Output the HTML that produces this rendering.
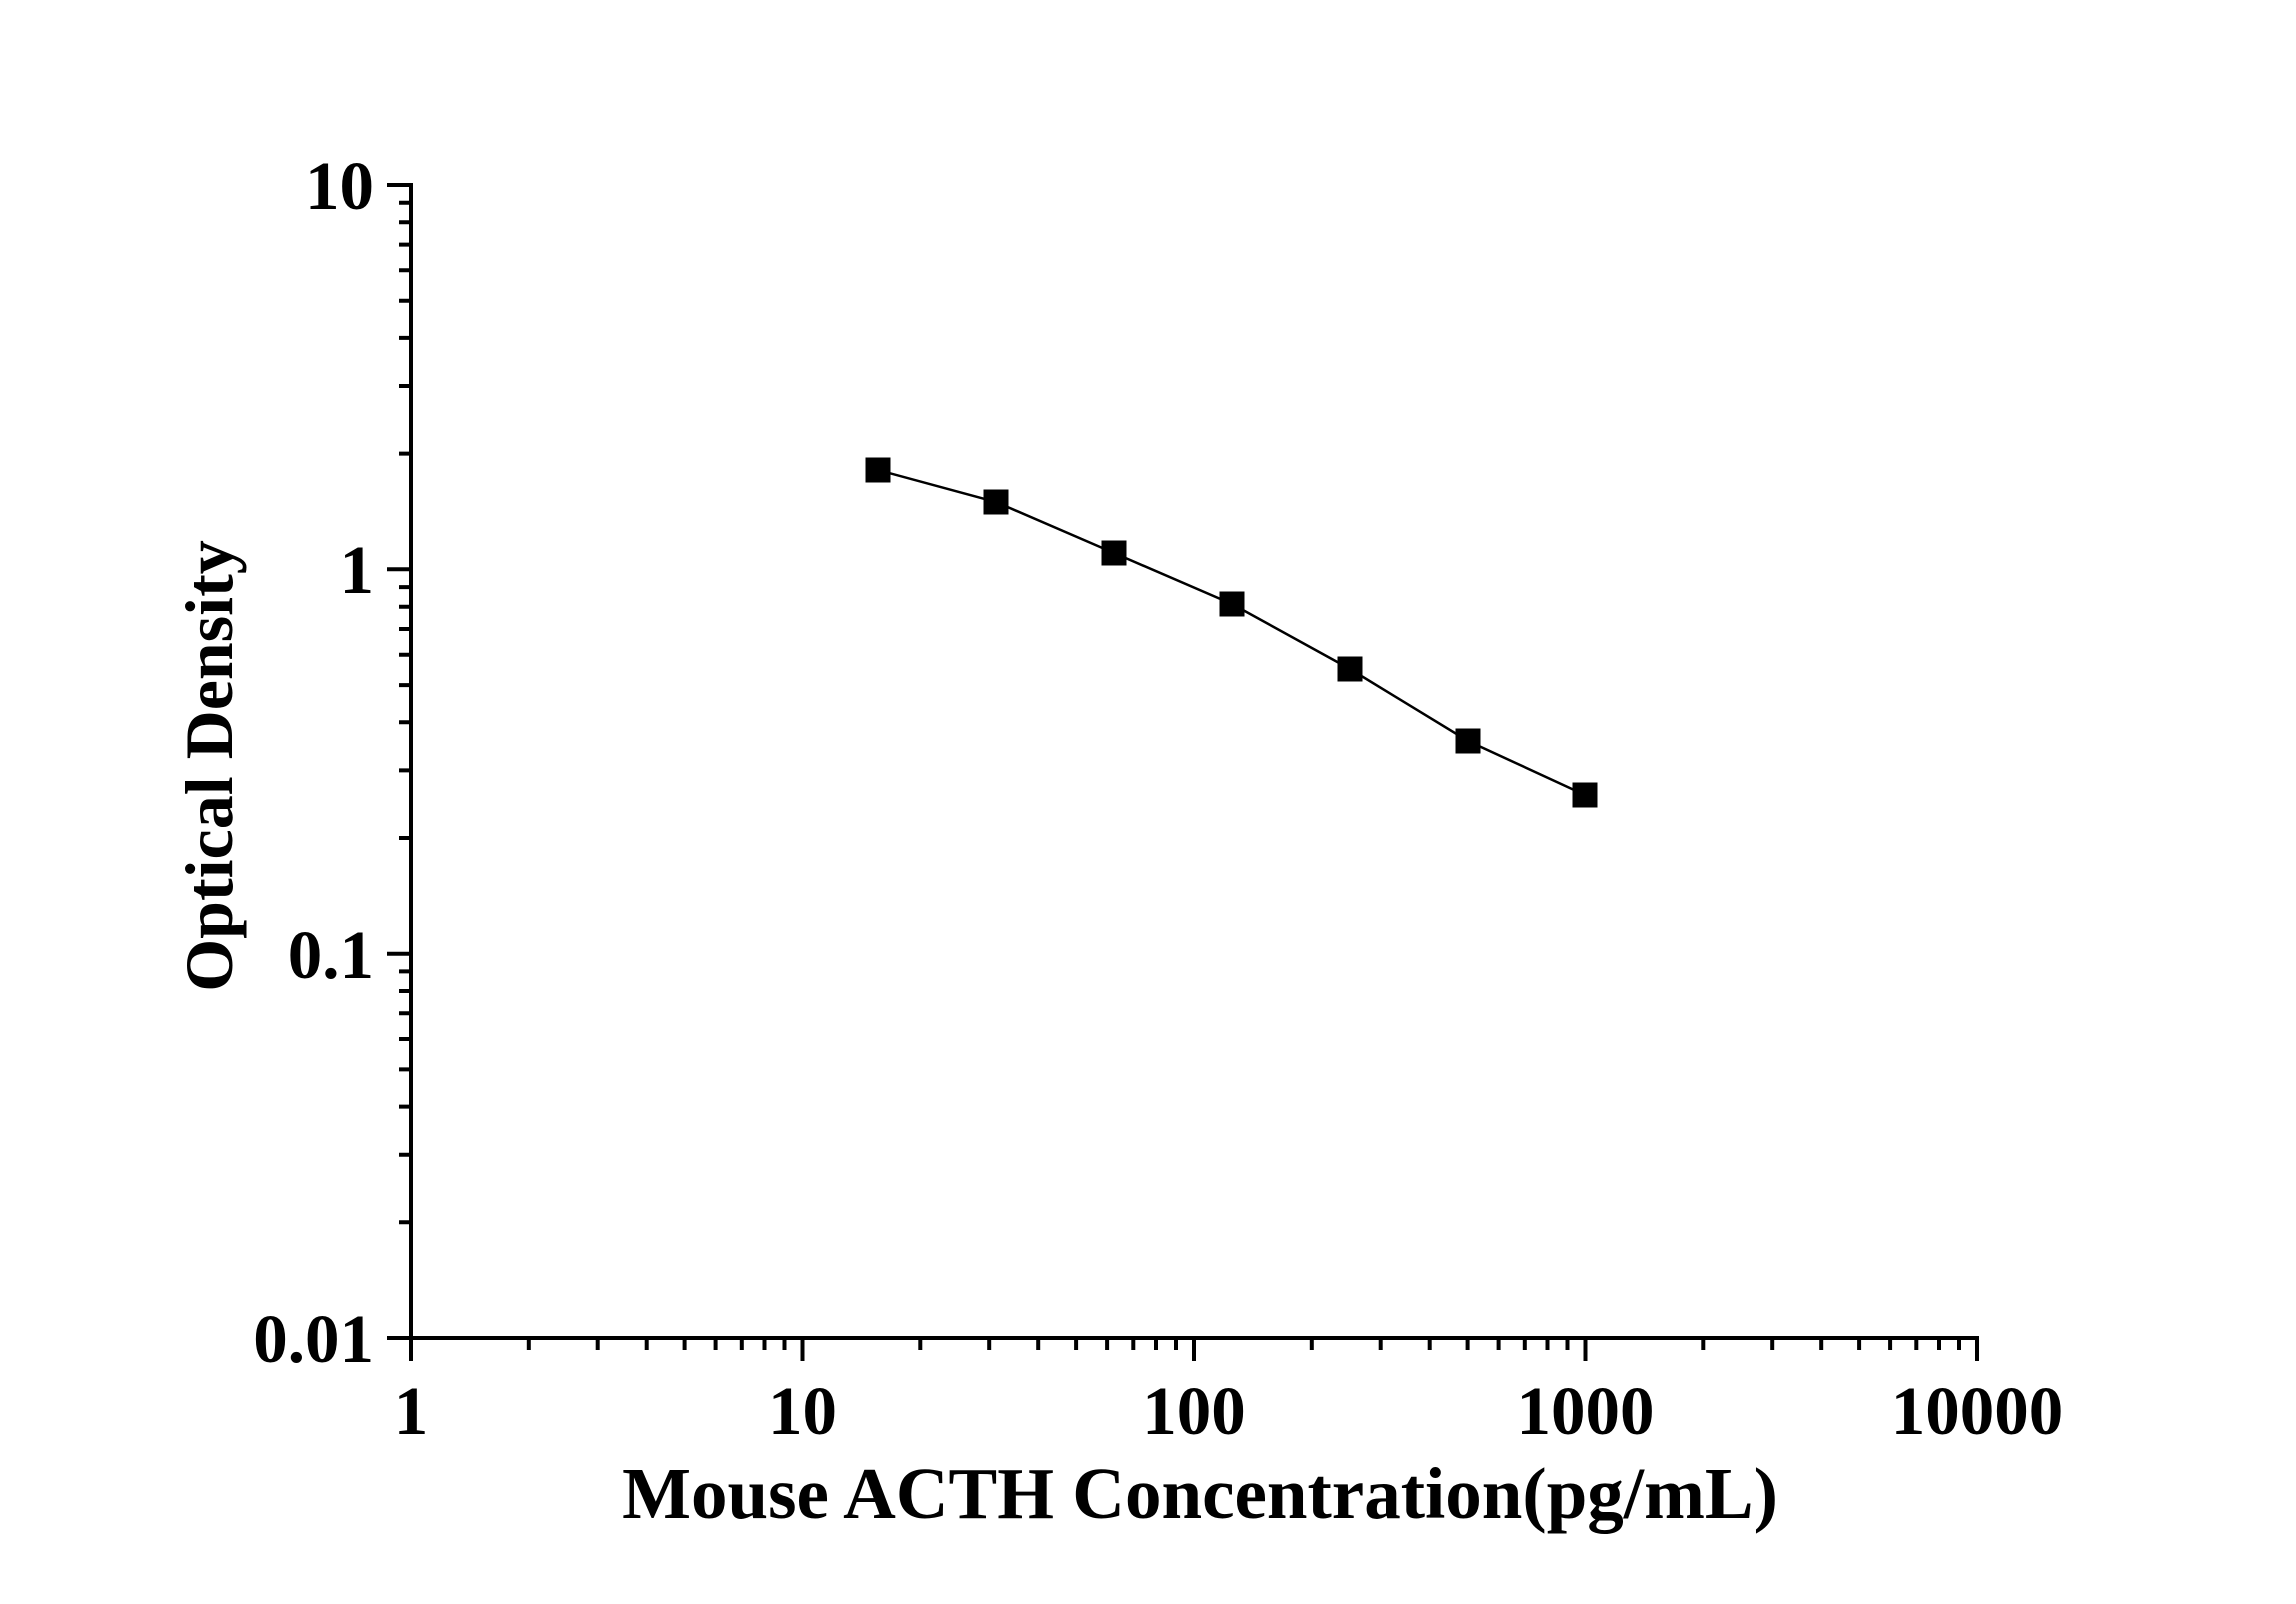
<!DOCTYPE html>
<html><head><meta charset="utf-8"><style>
html,body{margin:0;padding:0;background:#fff}
svg{display:block}
text{font-family:"Liberation Serif",serif;font-weight:bold;fill:#000}
</style></head><body>
<svg width="2296" height="1604" viewBox="0 0 2296 1604" xmlns="http://www.w3.org/2000/svg">
<g stroke="#000" stroke-width="4" fill="none">
<path d="M411 183 V1340 M387 1338 H1979 M1977 1338 V1361"/>
<path d="M387 185 H411 M387 569.3 H411 M387 953.7 H411"/>
<path d="M411 1338 V1361 M802.5 1338 V1361 M1194 1338 V1361 M1585.5 1338 V1361"/>
<path d="M399 1222.3H411M399 1154.7H411M399 1106.6H411M399 1069.4H411M399 1039H411M399 1013.3H411M399 991H411M399 971.4H411
M399 838H411M399 770.4H411M399 722.3H411M399 685.1H411M399 654.7H411M399 629H411M399 606.7H411M399 587.1H411
M399 453.6H411M399 386H411M399 337.9H411M399 300.7H411M399 270.3H411M399 244.6H411M399 222.3H411M399 202.7H411"/>
<path d="M528.8 1338v12M597.7 1338v12M646.7 1338v12M684.6 1338v12M715.6 1338v12M741.8 1338v12M764.5 1338v12M784.5 1338v12
M920.3 1338v12M989.2 1338v12M1038.2 1338v12M1076.1 1338v12M1107.1 1338v12M1133.3 1338v12M1156 1338v12M1176 1338v12
M1311.8 1338v12M1380.7 1338v12M1429.7 1338v12M1467.6 1338v12M1498.6 1338v12M1524.8 1338v12M1547.5 1338v12M1567.5 1338v12
M1703.3 1338v12M1772.2 1338v12M1821.2 1338v12M1859.1 1338v12M1890.1 1338v12M1916.3 1338v12M1939 1338v12M1959 1338v12"/>
</g>
<path d="M878 470 L996 502 L1114 553 L1232 604 L1350 669 L1468 741 L1585 795" stroke="#000" stroke-width="2.5" fill="none"/>
<g fill="#000">
<rect x="865.5" y="457.5" width="25" height="25"/>
<rect x="983.5" y="489.5" width="25" height="25"/>
<rect x="1101.5" y="540.5" width="25" height="25"/>
<rect x="1219.5" y="591.5" width="25" height="25"/>
<rect x="1337.5" y="656.5" width="25" height="25"/>
<rect x="1455.5" y="728.5" width="25" height="25"/>
<rect x="1572.5" y="782.5" width="25" height="25"/>
</g>
<g font-size="69" text-anchor="end">
<text x="374" y="209">10</text>
<text x="374" y="593">1</text>
<text x="374" y="978">0.1</text>
<text x="374" y="1362">0.01</text>
</g>
<g font-size="69" text-anchor="middle">
<text x="411" y="1434">1</text>
<text x="802.5" y="1434">10</text>
<text x="1194" y="1434">100</text>
<text x="1585.5" y="1434">1000</text>
<text x="1977" y="1434">10000</text>
</g>
<text x="1200" y="1518" font-size="73" text-anchor="middle">Mouse ACTH Concentration(pg/mL)</text>
<text transform="translate(232,766) rotate(-90)" font-size="68" text-anchor="middle">Optical Density</text>
</svg>
</body></html>
